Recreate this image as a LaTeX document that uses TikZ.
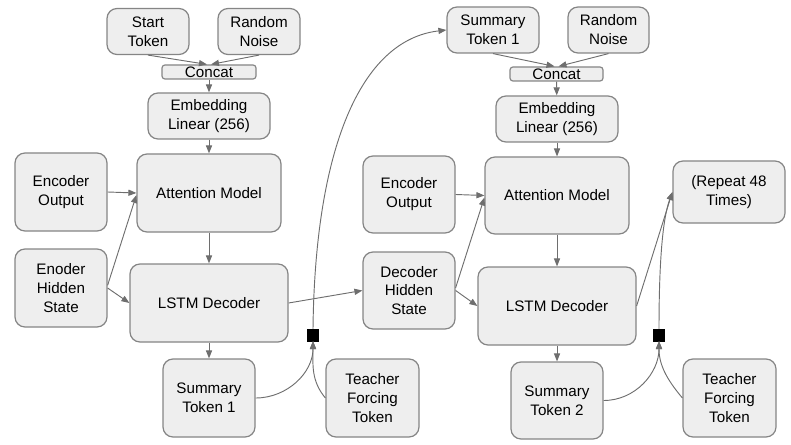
\documentclass[tikz,border=0pt]{standalone}
\usepackage{fontspec}
\setmainfont{Liberation Sans}
\usetikzlibrary{arrows.meta}
\definecolor{boxfill}{HTML}{EEEEEE}
\definecolor{boxline}{HTML}{858585}
\definecolor{arrcol}{HTML}{6E6E6E}
\tikzset{
  bx/.style 2 args={draw=boxline, fill=boxfill, line width=0.9pt, rounded corners=7.5pt,
    minimum width=#1*0.75pt, minimum height=#2*0.75pt, inner sep=0pt, align=center,
    font=\fontsize{11.4pt}{14.2pt}\selectfont},
  thin box/.style={rounded corners=2.2pt},
  sqbox/.style={draw=black, fill=black, minimum width=8.4pt, minimum height=8.7pt, inner sep=0pt},
  arr/.style={draw=arrcol, line width=0.7pt, -{Triangle[length=6pt,width=4.6pt]}},
}
\begin{document}
\begin{tikzpicture}[x=0.75pt,y=-0.75pt]
\useasboundingbox (0,0) rectangle (791,445);
% left chain
\node[bx={82}{46}] (st1) at (148,31.5) {Start\\Token};
\node[bx={82}{46}] (rn1) at (259,31.5) {Random\\Noise};
\node[bx={94}{14}, thin box] (cc1) at (209,72) {Concat};
\node[bx={122}{46}] (em1) at (209,116) {Embedding\\Linear (256)};
\node[bx={144}{78}] (at1) at (209,193) {Attention Model};
\node[bx={92}{78}] (eo1) at (61,192) {Encoder\\Output};
\node[bx={92}{78}] (eh1) at (61,288) {Enoder\\Hidden\\State};
\node[bx={158}{78}] (ls1) at (209,303) {LSTM Decoder};
\node[bx={92}{78}] (su1) at (209,398) {Summary\\Token 1};
\node[bx={93}{78}] (tf1) at (372.5,398) {Teacher\\Forcing\\Token};
\node[sqbox] (sq1) at (313,335) {};
\node[bx={92}{77}] (dh) at (409,290.5) {Decoder\\Hidden\\State};
% right chain
\node[bx={92}{46}] (st2) at (493,30) {Summary\\Token 1};
\node[bx={81}{46}] (rn2) at (608.5,30) {Random\\Noise};
\node[bx={93}{14}, thin box] (cc2) at (556.5,74) {Concat};
\node[bx={122}{46}] (em2) at (557,119) {Embedding\\Linear (256)};
\node[bx={144}{77}] (at2) at (557,195.5) {Attention Model};
\node[bx={92}{77}] (eo2) at (409,194.5) {Encoder\\Output};
\node[bx={158}{78}] (ls2) at (557,306) {LSTM Decoder};
\node[bx={92}{77}] (su2) at (557,400.5) {Summary\\Token 2};
\node[bx={93}{78}] (tf2) at (729.5,398) {Teacher\\Forcing\\Token};
\node[sqbox] (sq2) at (659,335) {};
\node[bx={112}{62}] (rp) at (729,192) {(Repeat 48\\Times)};
% left connectors
\draw[arr] (st1.south) -- ([xshift=-1.5pt]cc1.north);
\draw[arr] (rn1.south) -- ([xshift=1.5pt]cc1.north);
\draw[arr] (cc1) -- (em1);
\draw[arr] (em1) -- (at1);
\draw[arr] (eo1.east) -- (at1.west);
\draw[arr] ([yshift=2pt]eh1.east) -- ([yshift=-1.5pt]at1.west);
\draw[arr] (eh1.east) -- (ls1.west);
\draw[arr] (at1) -- (ls1);
\draw[arr] (ls1) -- (su1);
\draw[arr] (ls1.east) -- (dh.west);
\draw[arr] (su1.east) to[out=0,in=-90] (sq1.south);
\draw[arr] (tf1.west) to[out=130,in=-90] (sq1.south);
\draw[arr] (sq1.north) .. controls (315,150) and (360,40) .. (st2.west);
% right connectors
\draw[arr] (st2.south) -- ([xshift=-1.5pt]cc2.north);
\draw[arr] (rn2.south) -- ([xshift=1.5pt]cc2.north);
\draw[arr] (cc2) -- (em2);
\draw[arr] (em2) -- (at2);
\draw[arr] (eo2.east) -- (at2.west);
\draw[arr] ([yshift=2pt]dh.east) -- ([yshift=-1.5pt]at2.west);
\draw[arr] (dh.east) -- (ls2.west);
\draw[arr] (at2) -- (ls2);
\draw[arr] (ls2) -- (su2);
\draw[arr] (ls2.east) -- (rp.west);
\draw[arr] (sq2.north) .. controls (659,250) and (664,215) .. (rp.west);
\draw[arr] (su2.east) to[out=0,in=-90] (sq2.south);
\draw[arr] (tf2.west) to[out=130,in=-90] (sq2.south);
\end{tikzpicture}
\end{document}
